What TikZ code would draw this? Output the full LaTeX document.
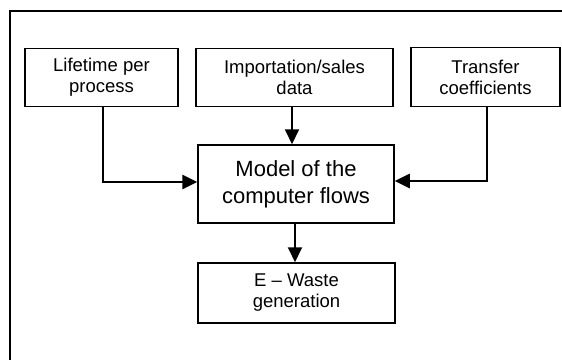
\documentclass[tikz,border=0pt]{standalone}
\usepackage{fontspec}
\setmainfont{Liberation Sans}
\usetikzlibrary{arrows.meta}
\begin{document}
\begin{tikzpicture}[x=1pt,y=-1pt,
  box/.style={draw, line width=1.5pt, inner sep=0pt, align=center, font=\fontsize{18.5}{21}\selectfont},
  bigbox/.style={draw, line width=1.5pt, inner sep=0pt, align=center, font=\fontsize{22}{27}\selectfont},
  conn/.style={line width=2pt, -{Triangle[length=15pt,width=14pt]}},
  connthick/.style={line width=2.6pt, -{Triangle[length=15pt,width=14pt]}}]
\useasboundingbox (0,0) rectangle (562,359);
\coordinate (fbl) at (10,362);
\coordinate (ftl) at (10,11);
\coordinate (ftr) at (565,11);
\draw[line width=1.5pt] (fbl) -- (ftl) -- (ftr);
\node[box, minimum width=153pt, minimum height=58pt] (life) at (101.5,77.5) {Lifetime per\\process};
\node[box, minimum width=197pt, minimum height=58pt] (imp) at (294.5,77.5) {Importation/sales\\data};
\node[box, minimum width=149pt, minimum height=59pt] (tr) at (485.5,77) {Transfer\\coefficients};
\node[bigbox, minimum width=196pt, minimum height=78pt] (model) at (296,184) {Model of the\\computer flows};
\node[box, minimum width=197pt, minimum height=60pt] (ew) at (296.5,293) {E -- Waste\\generation};
\coordinate (lc) at (103,182);
\coordinate (tc) at (487,181);
\draw[connthick] (life.south -| lc) -- (lc) -- (lc -| model.west);
\draw[connthick] (tr.south -| tc) -- (tc) -- (tc -| model.east);
\draw[conn] (imp.south -| 292,0) -- (model.north -| 292,0);
\draw[conn] (model.south -| 295,0) -- (ew.north -| 295,0);
\end{tikzpicture}
\end{document}
